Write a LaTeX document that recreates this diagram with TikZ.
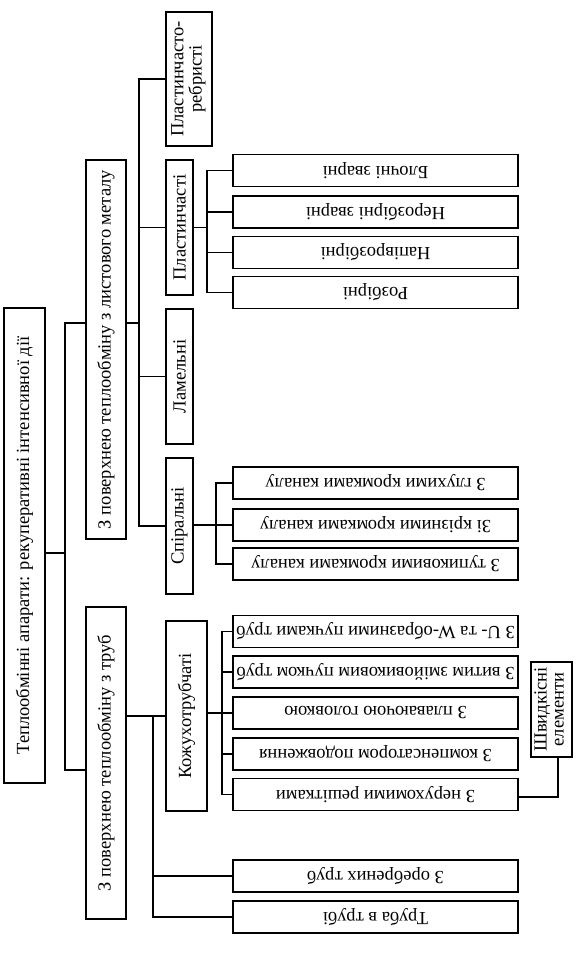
\documentclass[tikz,border=0pt]{standalone}
\usepackage{fontspec}
\setmainfont{Liberation Serif}
\usepackage{graphicx}

\begin{document}
\begin{tikzpicture}[x=1pt, y=-1pt,
		box/.style={draw, line width=1.2pt, inner sep=0pt, align=center,
			font=\fontsize{18.5}{17}\selectfont},
		leaf/.style={box, minimum width=285pt, minimum height=32pt},
		link/.style={line width=1.2pt}]
	\useasboundingbox (0,0) rectangle (575,957);

	\node[box, minimum width=41pt, minimum height=475pt] (root) at (24.5,545.5)
		{\rotatebox{90}{Теплообмінні апарати: рекуперативні інтенсивної дії}};
	\node[box, minimum width=40pt, minimum height=379pt] (metal) at (106,349.5)
		{\rotatebox{90}{З поверхнею теплообміну з листового металу}};
	\node[box, minimum width=40pt, minimum height=312pt] (tube) at (106,763)
		{\rotatebox{90}{З поверхнею теплообміну з труб}};

	\node[box, minimum width=46pt, minimum height=134pt] (plrebr) at (189,79)
		{\rotatebox{90}{\begin{tabular}{@{}c@{}}Пластинчасто-\\ребристі\end{tabular}}};
	\node[box, minimum width=27pt, minimum height=135pt] (plast) at (179.5,227.5)
		{\rotatebox{90}{Пластинчасті}};
	\node[box, minimum width=27pt, minimum height=135pt] (lamel) at (179.5,376.5)
		{\rotatebox{90}{Ламельні}};
	\node[box, minimum width=27pt, minimum height=136pt] (spiral) at (179.5,526)
		{\rotatebox{90}{Спіральні}};
	\node[box, minimum width=41pt, minimum height=190pt] (kozh) at (186.5,716)
		{\rotatebox{90}{Кожухотрубчаті}};

	\node[leaf] (blochni) at (375.5,170.5) {\rotatebox{180}{Блочні зварні}};
	\node[leaf] (nerozb) at (375.5,212) {\rotatebox{180}{Нерозбірні зварні}};
	\node[leaf] (napiv) at (375.5,252.5) {\rotatebox{180}{Напіврозбірні}};
	\node[leaf] (rozb) at (375.5,292.5) {\rotatebox{180}{Розбірні}};

	\node[leaf] (gluh) at (375.5,483) {\rotatebox{180}{З глухими кромками каналу}};
	\node[leaf] (kriz) at (375.5,525) {\rotatebox{180}{Зі крізними кромками каналу}};
	\node[leaf] (tupik) at (375.5,564) {\rotatebox{180}{З тупиковими кромками каналу}};

	\node[leaf] (uw) at (375.5,631.5) {\rotatebox{180}{З U- та W-образними пучками труб}};
	\node[leaf] (vytym) at (375.5,672) {\rotatebox{180}{З витим змійовиковим пучком труб}};
	\node[leaf] (plav) at (375.5,713) {\rotatebox{180}{З плаваючою головкою}};
	\node[leaf] (komp) at (375.5,754) {\rotatebox{180}{З компенсатором подовження}};
	\node[leaf] (neruh) at (375.5,794.5) {\rotatebox{180}{З нерухомими решітками}};

	\node[leaf] (orebr) at (375.5,876) {\rotatebox{180}{З оребрених труб}};
	\node[leaf] (truba) at (375.5,917) {\rotatebox{180}{Труба в трубі}};

	\node[box, minimum width=41pt, minimum height=95pt] (shvyd) at (551.5,709.5)
		{\rotatebox{90}{\begin{tabular}{@{}c@{}}Швидкісні\\елементи\end{tabular}}};

	\coordinate (t1) at (65,553);
	\coordinate (t2) at (139,323);
	\coordinate (t3) at (207,227.5);
	\coordinate (t4) at (216,525);
	\coordinate (t5) at (153,716);
	\coordinate (t6) at (222,713);
	\coordinate (t7) at (558,797);

	\draw[link] (root.east |- t1) -- (t1);
	\draw[link] (metal.west |- t2) -| (t1) |- (tube.west |- 0,770);

	\draw[link] (metal.east |- t2) -- (t2);
	\draw[link] (plrebr.west) -| (t2) |- (spiral.west);
	\draw[link] (t2 |- plast.west) -- (plast.west);
	\draw[link] (t2 |- lamel.west) -- (lamel.west);

	\draw[link] (plast.east) -- (t3);
	\draw[link] (blochni.west) -| (t3) |- (rozb.west);
	\draw[link] (t3 |- nerozb.west) -- (nerozb.west);
	\draw[link] (t3 |- napiv.west) -- (napiv.west);

	\draw[link] (spiral.east |- t4) -- (kriz.west);
	\draw[link] (gluh.west) -| (t4) |- (tupik.west);

	\draw[link] (tube.east |- t5) -- (kozh.west |- t5);
	\draw[link] (t5) |- (truba.west);
	\draw[link] (t5 |- orebr.west) -- (orebr.west);

	\draw[link] (kozh.east |- t6) -- (plav.west);
	\draw[link] (uw.west) -| (t6) |- (neruh.west);
	\draw[link] (t6 |- vytym.west) -- (vytym.west);
	\draw[link] (t6 |- komp.west) -- (komp.west);

	\draw[link] (neruh.east |- t7) -- (t7) -- (t7 |- shvyd.south);
\end{tikzpicture}
\end{document}
